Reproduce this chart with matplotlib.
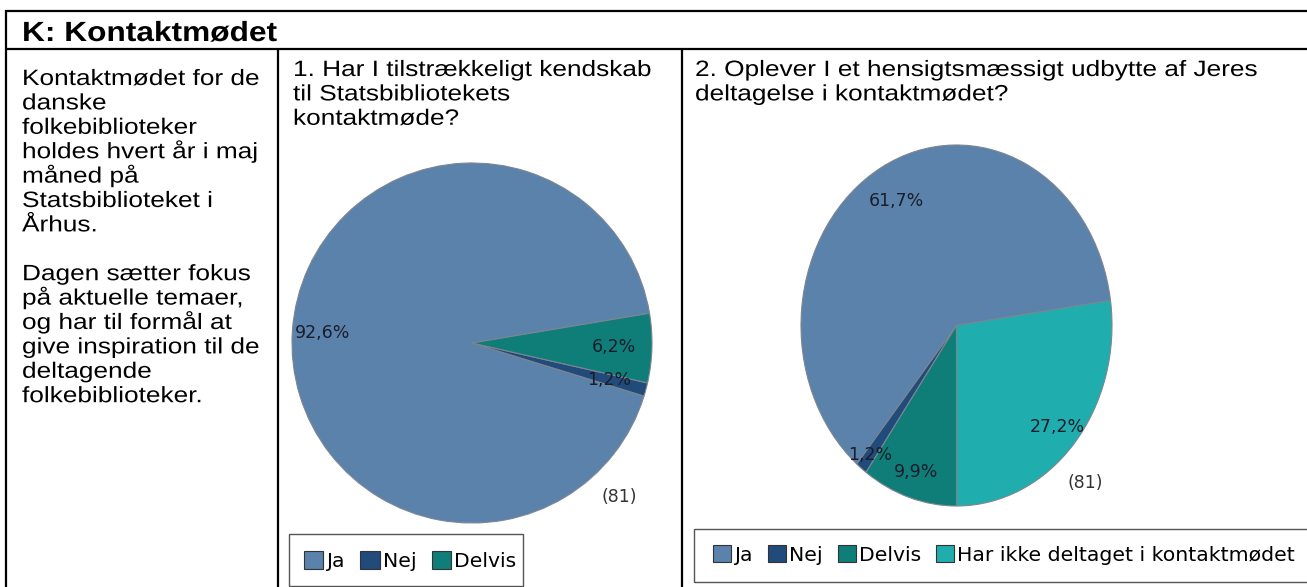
import matplotlib
matplotlib.use("Agg")
import matplotlib.pyplot as plt
from matplotlib.patches import Rectangle, Patch
from matplotlib.lines import Line2D
from matplotlib.patheffects import AbstractPathEffect
from matplotlib.transforms import Affine2D

# ---------------- data ----------------
header = "K: Kontaktmødet"
intro_lines = ["Kontaktmødet for de", "danske", "folkebiblioteker",
               "holdes hvert år i maj", "måned på", "Statsbiblioteket i",
               "Århus.", "", "Dagen sætter fokus", "på aktuelle temaer,",
               "og har til formål at", "give inspiration til de",
               "deltagende", "folkebiblioteker."]
q1_lines = ["1. Har I tilstrækkeligt kendskab", "til Statsbibliotekets",
            "kontaktmøde?"]
q2_lines = ["2. Oplever I et hensigtsmæssigt udbytte af Jeres",
            "deltagelse i kontaktmødet?"]
q1_labels = ["Ja", "Nej", "Delvis"]
q1_values = [92.6, 1.2, 6.2]
q2_labels = ["Ja", "Nej", "Delvis", "Har ikke deltaget i kontaktmødet"]
q2_values = [61.7, 1.2, 9.9, 27.2]
n_text = "(81)"

# ---------------- style ----------------
W, H = 1307, 587
colors = {"Ja": "#5A82AB", "Nej": "#204B7B", "Delvis": "#0F7E79",
          "Har ikke deltaget i kontaktmødet": "#1FADAD"}
label_color = "#1a1d2b"
q1_label_r = [0.83, 0.79, 0.79]
q2_label_r = [0.79, 0.91, 0.85, 0.86]


def fx(x):
    return x / W


def fy(y):
    return 1 - y / H


class HStretch(AbstractPathEffect):
    """Stretch glyphs horizontally around an anchor x (display px)."""

    def __init__(self, sx, x0):
        super().__init__()
        self._sx = sx
        self._x0 = x0

    def draw_path(self, renderer, gc, tpath, affine, rgbFace=None):
        a = affine + Affine2D().translate(-self._x0, 0).scale(self._sx, 1).translate(self._x0, 0)
        renderer.draw_path(gc, tpath, a, rgbFace)


fig = plt.figure(figsize=(W / 100, H / 100), dpi=100)
fig.patch.set_facecolor("white")


def ftext(x, y, s, size, sx, weight="normal"):
    fig.text(fx(x), fy(y), s, fontsize=size, fontweight=weight,
             family=["Liberation Sans", "DejaVu Sans"], ha="left", va="baseline",
             color="black", path_effects=[HStretch(sx, x)])


# ---------------- table lines ----------------
lw = 1.6
def hline(y, x0, x1):
    fig.add_artist(Line2D([fx(x0), fx(x1)], [fy(y), fy(y)], color="black", lw=lw,
                          transform=fig.transFigure, solid_capstyle="butt"))


def vline(x, y0, y1):
    fig.add_artist(Line2D([fx(x), fx(x)], [fy(y0), fy(y1)], color="black", lw=lw,
                          transform=fig.transFigure, solid_capstyle="butt"))


hline(11, 5, W + 5)
hline(49, 5, W + 5)
vline(6, 10, H + 5)
vline(278, 49, H + 5)
vline(682, 49, H + 5)

# ---------------- texts ----------------
ftext(22, 41, header, 20, 1.14, weight="bold")
base = 85
step = 24.4
for i, line in enumerate(intro_lines):
    if line:
        ftext(22, base + i * step, line, 16, 1.18)
qbase = 76
for i, line in enumerate(q1_lines):
    ftext(293, qbase + i * step, line, 16, 1.18)
for i, line in enumerate(q2_lines):
    ftext(695, qbase + i * step, line, 16, 1.18)


def pct_fmt(p):
    return f"{p:.1f}%".replace(".", ",")


def draw_pie(box, labels, values, start, radii):
    x0, y0, w, h = box
    ax = fig.add_axes([fx(x0), fy(y0 + h), w / W, h / H])
    pctd = 0.8
    _, _, autotexts = ax.pie(values, colors=[colors[l] for l in labels], startangle=start,
                             counterclock=True, autopct=pct_fmt, pctdistance=pctd,
                             wedgeprops=dict(edgecolor="#7d8590", linewidth=0.8),
                             textprops=dict(fontsize=12.5, color=label_color,
                                            family="DejaVu Sans"))
    for t, r in zip(autotexts, radii):
        px, py = t.get_position()
        t.set_position((px * r / pctd, py * r / pctd))
    ax.set_aspect("auto")
    ax.set_xlim(-1, 1)
    ax.set_ylim(-1, 1)
    ax.axis("off")
    return ax


ax1 = draw_pie((292, 163, 360, 360), q1_labels, q1_values, 9.5, q1_label_r)
ax1.text(0.82, -0.855, n_text, fontsize=12.5, color="#333333", ha="center",
         va="center", family="DejaVu Sans", clip_on=False)
ax2 = draw_pie((801, 145, 311, 361), q2_labels, q2_values, 8.0, q2_label_r)
ax2.text(0.83, -0.87, n_text, fontsize=12.5, color="#333333", ha="center",
         va="center", family="DejaVu Sans", clip_on=False)

# ---------------- legends ----------------
def legend_box(x0, y0, x1, y1):
    fig.add_artist(Rectangle((fx(x0), fy(y1)), (x1 - x0) / W, (y1 - y0) / H,
                             transform=fig.transFigure, fill=False,
                             edgecolor="#555555", lw=1.0))


legend_box(289, 534, 523, 586)
legend_box(694, 529, W + 10, 582)


def make_legend(labels, x, y, hl):
    handles = [Patch(facecolor=colors[l], edgecolor="#333333", lw=0.8) for l in labels]
    fig.legend(handles, labels, loc="center left", bbox_to_anchor=(fx(x), fy(y)),
               bbox_transform=fig.transFigure, ncol=len(labels), frameon=False,
               borderpad=0, borderaxespad=0, handlelength=hl, handleheight=hl,
               handletextpad=0.15, columnspacing=0.75,
               prop=dict(family="DejaVu Sans", size=14.7))


make_legend(q1_labels, 304, 561, 0.95)
make_legend(q2_labels, 713, 555, 0.88)

fig.savefig("out.png", dpi=100)
